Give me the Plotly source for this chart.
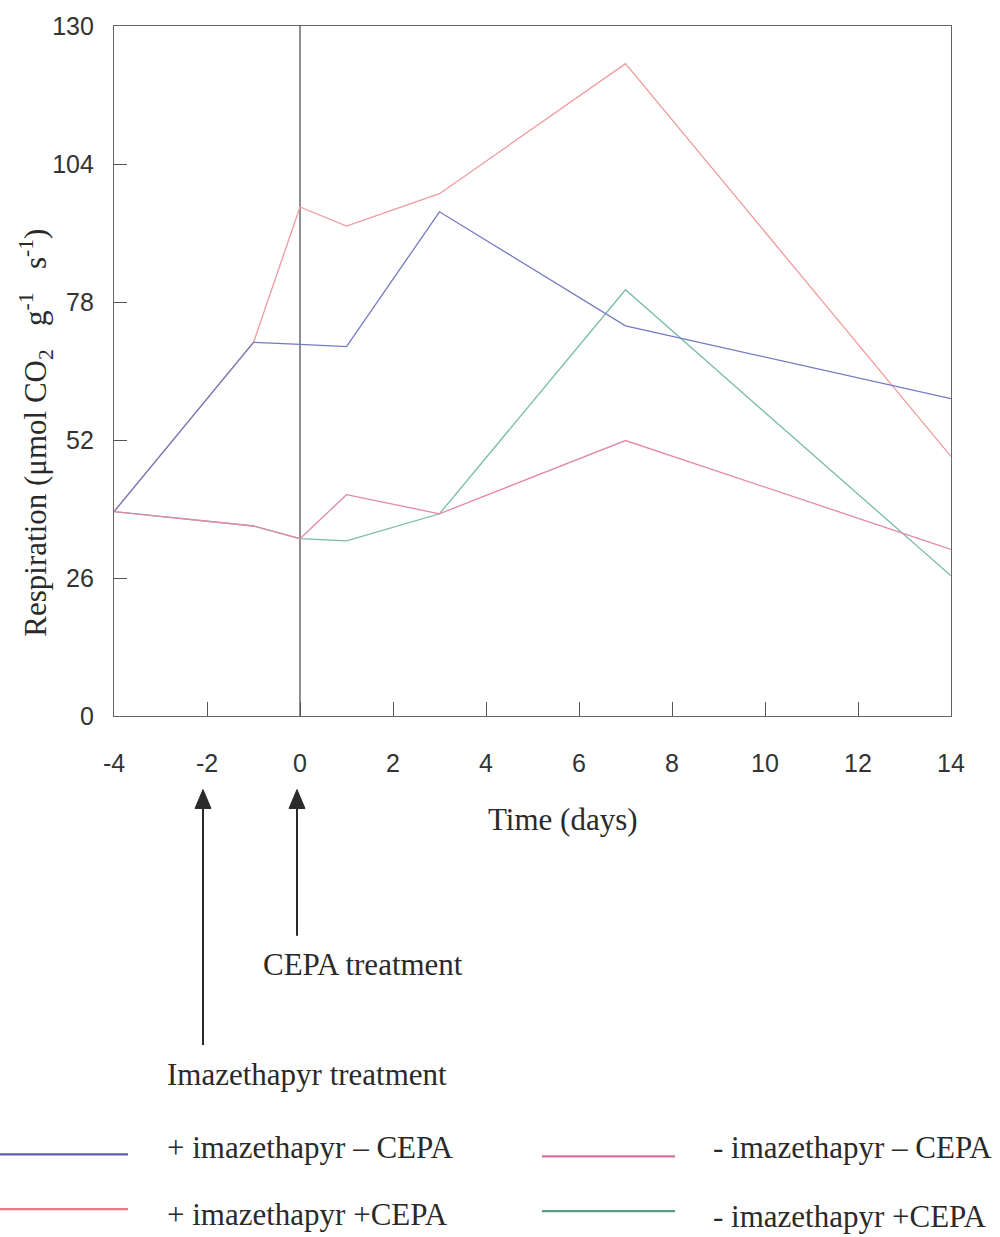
import plotly.graph_objects as go

# ---- data ----
days = [-4, -1, 0, 1, 3, 7, 14]
plus_imaz_minus_cepa = [38.5, 70.4, 70.0, 69.6, 95.0, 73.5, 59.8]
plus_imaz_plus_cepa = [38.5, 70.4, 95.9, 92.3, 98.4, 122.9, 48.9]
minus_imaz_minus_cepa = [38.5, 35.8, 33.4, 41.7, 38.1, 51.9, 31.4]
minus_imaz_plus_cepa = [38.5, 35.8, 33.4, 33.0, 38.1, 80.3, 26.4]

y_ticks = [0, 26, 52, 78, 104, 130]
x_ticks = [-4, -2, 0, 2, 4, 6, 8, 10, 12, 14]

labels = {
    "pm": "+ imazethapyr \u2013 CEPA",
    "pp": "+ imazethapyr +CEPA",
    "mm": "- imazethapyr \u2013 CEPA",
    "mp": "- imazethapyr +CEPA",
}
line_colors = {"pm": "#7579c2", "pp": "#f09a9c", "mm": "#e486ad", "mp": "#78bca3"}
legend_colors = {"pm": "#5b61a8", "pp": "#ea7c84", "mm": "#da6f9b", "mp": "#5d9c84"}

W, H = 1000, 1237
L, R, T, B = 114, 49, 22, 521
PW, PH = W - L - R, H - T - B


def fx(px):
    return (px - L) / PW


def fy(py):
    return (T + PH - py) / PH


serif = "Liberation Serif, Times New Roman, serif"
sans = "Liberation Sans, Arial, sans-serif"
ink = "#2a2a2a"

fig = go.Figure()
series = [
    ("pp", plus_imaz_plus_cepa),
    ("mp", minus_imaz_plus_cepa),
    ("pm", plus_imaz_minus_cepa),
    ("mm", minus_imaz_minus_cepa),
]
for key, vals in series:
    fig.add_trace(go.Scatter(
        x=days, y=vals, mode="lines", name=labels[key],
        line=dict(color=line_colors[key], width=1.3),
        showlegend=False,
    ))

# vertical line at day 0
fig.add_shape(type="line", xref="x", yref="y", x0=0, x1=0, y0=0, y1=130,
              line=dict(color="#444444", width=1.2), layer="below")

# arrows (shaft + filled head) drawn as shapes
for ax_px, tip_py, tail_py in [(203, 790, 1047), (297, 790, 937)]:
    fig.add_shape(type="line", xref="paper", yref="paper",
                  x0=fx(ax_px), x1=fx(ax_px), y0=fy(tip_py + 12), y1=fy(tail_py),
                  line=dict(color=ink, width=2))
    path = "M {a},{b} L {c},{d} L {e},{d} Z".format(
        a=fx(ax_px), b=fy(tip_py), c=fx(ax_px - 8), d=fy(tip_py + 19), e=fx(ax_px + 8))
    fig.add_shape(type="path", xref="paper", yref="paper", path=path,
                  fillcolor=ink, line=dict(color=ink, width=1))

annotations = []
# arrow labels
annotations.append(dict(xref="paper", yref="paper", x=fx(363), y=fy(966), text="CEPA treatment",
                        showarrow=False, xanchor="center", yanchor="middle",
                        font=dict(family=serif, size=31, color=ink)))
annotations.append(dict(xref="paper", yref="paper", x=fx(307), y=fy(1077), text="Imazethapyr treatment",
                        showarrow=False, xanchor="center", yanchor="middle",
                        font=dict(family=serif, size=31, color=ink)))
# axis titles
annotations.append(dict(xref="paper", yref="paper", x=fx(563), y=fy(820), text="Time (days)",
                        showarrow=False, xanchor="center", yanchor="middle",
                        font=dict(family=serif, size=31, color=ink)))
annotations.append(dict(xref="paper", yref="paper", x=fx(36), y=fy(431),
                        text="Respiration (\u03bcmol CO<sub>2</sub>   g<sup>-1</sup>   s<sup>-1</sup>)",
                        showarrow=False, xanchor="center", yanchor="middle", textangle=-90,
                        font=dict(family=serif, size=31, color=ink)))

# manual legend
legend_items = [
    ("pm", 0, 128, 1157, 165, 1150),
    ("pp", 0, 128, 1212, 165, 1217),
    ("mm", 542, 675, 1159, 711, 1150),
    ("mp", 542, 675, 1214, 711, 1219),
]
for key, x0, x1, ly, tx, ty in legend_items:
    fig.add_shape(type="line", xref="paper", yref="paper", x0=fx(x0), x1=fx(x1),
                  y0=fy(ly), y1=fy(ly), line=dict(color=legend_colors[key], width=2.2))
    annotations.append(dict(xref="paper", yref="paper", x=fx(tx), y=fy(ty), text=labels[key],
                            showarrow=False, xanchor="left", yanchor="middle",
                            font=dict(family=serif, size=31, color=ink)))

fig.update_layout(
    width=W, height=H,
    margin=dict(l=L, r=R, t=T, b=B, pad=0),
    paper_bgcolor="white", plot_bgcolor="white",
    annotations=annotations,
    showlegend=False,
)
fig.update_xaxes(range=[-4, 14], tickvals=x_ticks, ticktext=[str(v) for v in x_ticks],
                 ticks="inside", ticklen=14, tickwidth=1.2, tickcolor="#555555",
                 showline=True, linecolor="#666666", linewidth=1.2, mirror=True,
                 showgrid=False, zeroline=False,
                 tickfont=dict(family=sans, size=25, color="#333333"),
                 ticklabelstandoff=25)
fig.update_yaxes(range=[0, 130], tickvals=y_ticks, ticktext=[str(v) for v in y_ticks],
                 ticks="inside", ticklen=13, tickwidth=1.2, tickcolor="#555555",
                 showline=True, linecolor="#666666", linewidth=1.2, mirror=True,
                 showgrid=False, zeroline=False,
                 tickfont=dict(family=sans, size=25, color="#333333"),
                 ticklabelstandoff=14)

fig.write_html("out.html")
